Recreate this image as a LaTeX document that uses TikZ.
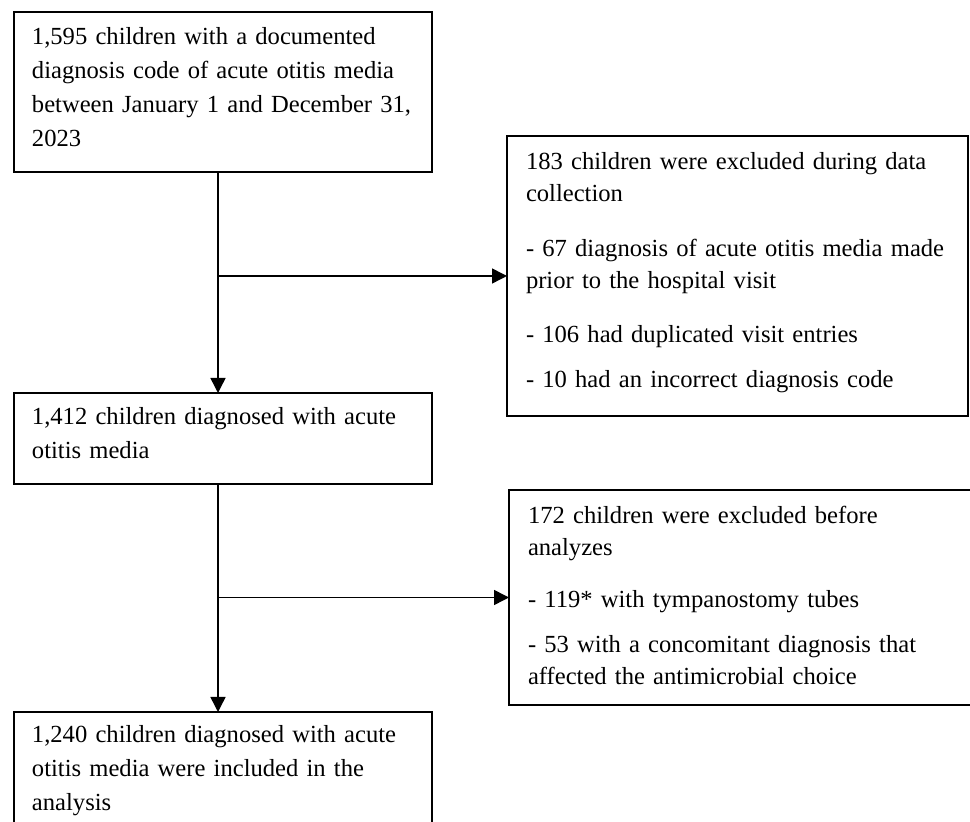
\documentclass[tikz,border=0pt]{standalone}
\usepackage{fontspec}
\setmainfont{Liberation Serif}
\usepackage{tikz}
\usetikzlibrary{arrows.meta}
\tikzset{
    block/.style={
        draw, line width=0.75pt,
        anchor=north west,
        inner xsep=9pt, inner ysep=0pt, outer sep=0pt,
        align=left,
        font=\fontsize{12.3}{17}\selectfont
    },
    side/.style={
        block, inner xsep=9.5pt,
        font=\fontsize{12.3}{16}\selectfont
    },
    line/.style={line width=0.75pt, -{Triangle[length=7.5pt,width=7.5pt]}}
}
\newcommand{\topgap}[1]{\rule{0pt}{#1}}
\newcommand{\botgap}[1]{\rule[-#1]{0pt}{#1}}

\begin{document}
\begin{tikzpicture}[x=0.5pt, y=-0.5pt]

    \useasboundingbox (0,0) rectangle (970,822);
    \clip (0,0) rectangle (970,822);

    % Blocks
    \node[block, text width=191pt] (source) at (14,12) {\topgap{16.5pt}1,595 children with a documented\\
        diagnosis code of acute otitis media\\
        between January 1 and December 31,\\
        2023\botgap{12.5pt}};
    \node[side, text width=211.5pt] (excl1) at (507,136) {\topgap{17pt}183 children were excluded during data\\
        collection\\[11.5pt]
        - 67 diagnosis of acute otitis media made\\
        prior to the hospital visit\\[11pt]
        - 106 had duplicated visit entries\\[6.5pt]
        - 10 had an incorrect diagnosis code\botgap{14pt}};
    \node[block, text width=191pt] (diag) at (14,393) {\topgap{16pt}1,412 children diagnosed with acute\\
        otitis media\botgap{12.5pt}};
    \node[side, text width=221pt] (excl2) at (509,490) {\topgap{17pt}172 children were excluded before\\
        analyzes\\[10pt]
        - 119* with tympanostomy tubes\\[6.5pt]
        - 53 with a concomitant diagnosis that\\
        affected the antimicrobial choice\botgap{10pt}};
    \node[block, text width=191pt] (final) at (14,712) {\topgap{15.5pt}1,240 children diagnosed with acute\\
        otitis media were included in the\\
        analysis\botgap{20pt}};

    % Lines
    \coordinate (spine) at (218,0);
    \draw[line] (source.south -| spine) -- (diag.north -| spine);
    \draw[line] (diag.south -| spine) -- (final.north -| spine);
    \draw[line] (excl1.west -| spine) -- (excl1.west);
    \draw[line] (excl2.west -| spine) -- (excl2.west);

\end{tikzpicture}
\end{document}
